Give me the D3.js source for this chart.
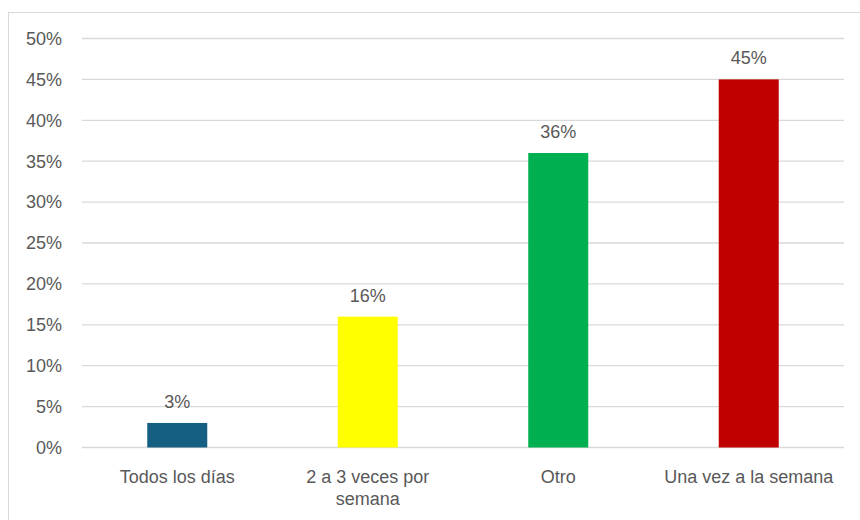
<!DOCTYPE html>
<html>
<head>
<meta charset="utf-8">
<script src="https://cdn.jsdelivr.net/npm/d3@7"></script>
<style>
  body { margin: 0; background: #fff; }
  text { font-family: "Liberation Sans", Arial, sans-serif; fill: #595959; }
</style>
</head>
<body>
<div id="chart"></div>
<script>
var categories = ["Todos los días", "2 a 3 veces por semana", "Otro", "Una vez a la semana"],
    values = [0.03, 0.16, 0.36, 0.45],
    barColors = ["#156082", "#FFFF00", "#00B050", "#C00000"],
    yTicks = [0, 0.05, 0.10, 0.15, 0.20, 0.25, 0.30, 0.35, 0.40, 0.45, 0.50];

var width = 860, height = 520,
    margin = {top: 38.5, right: 16, bottom: 72.5, left: 82};

var svg = d3.select("#chart").append("svg")
    .attr("width", width)
    .attr("height", height);

// chart area frame (cut off at right and bottom)
svg.append("rect")
    .attr("x", 8.5)
    .attr("y", 12.5)
    .attr("width", 900)
    .attr("height", 600)
    .style("fill", "none")
    .style("stroke", "#d9d9d9")
    .style("stroke-width", "1px");

var g = svg.append("g")
    .attr("transform", "translate(" + margin.left + "," + margin.top + ")");

var innerW = width - margin.left - margin.right,
    innerH = height - margin.top - margin.bottom;

var x = d3.scaleBand()
    .domain(categories)
    .range([0, innerW])
    .paddingInner(0.685)
    .paddingOuter(0.3425);

var y = d3.scaleLinear()
    .domain([0, 0.5])
    .range([innerH, 0]);

var pct = d3.format(".0%");

g.selectAll(".grid")
    .data(yTicks)
    .enter().append("line")
    .attr("class", "grid")
    .attr("x1", 0)
    .attr("x2", innerW)
    .attr("y1", function(d) { return y(d); })
    .attr("y2", function(d) { return y(d); })
    .style("stroke", "#d9d9d9")
    .style("stroke-width", "1.3px");

g.selectAll(".ylabel")
    .data(yTicks)
    .enter().append("text")
    .attr("class", "ylabel")
    .attr("x", -20)
    .attr("y", function(d) { return y(d); })
    .attr("dy", ".35em")
    .attr("text-anchor", "end")
    .style("font-size", "18px")
    .text(function(d) { return pct(d); });

g.selectAll(".bar")
    .data(values)
    .enter().append("rect")
    .attr("class", "bar")
    .attr("x", function(d, i) { return x(categories[i]); })
    .attr("y", function(d) { return y(d); })
    .attr("width", x.bandwidth())
    .attr("height", function(d) { return innerH - y(d); })
    .style("fill", function(d, i) { return barColors[i]; });

g.selectAll(".value")
    .data(values)
    .enter().append("text")
    .attr("class", "value")
    .attr("x", function(d, i) { return x(categories[i]) + x.bandwidth() / 2; })
    .attr("y", function(d) { return y(d) - 15; })
    .attr("text-anchor", "middle")
    .style("font-size", "18px")
    .text(function(d) { return pct(d); });

// category labels, wrapped like the original
var catLines = [["Todos los días"], ["2 a 3 veces por", "semana"], ["Otro"], ["Una vez a la semana"]];

var xl = g.selectAll(".xlabel")
    .data(categories)
    .enter().append("text")
    .attr("class", "xlabel")
    .attr("text-anchor", "middle")
    .style("font-size", "18px")
    .attr("transform", function(d) { return "translate(" + (x(d) + x.bandwidth() / 2) + "," + (innerH + 35) + ")"; });

xl.selectAll("tspan")
    .data(function(d, i) { return catLines[i]; })
    .enter().append("tspan")
    .attr("x", 0)
    .attr("dy", function(d, i) { return i ? 22 : 0; })
    .text(function(d) { return d; });
</script>
</body>
</html>
